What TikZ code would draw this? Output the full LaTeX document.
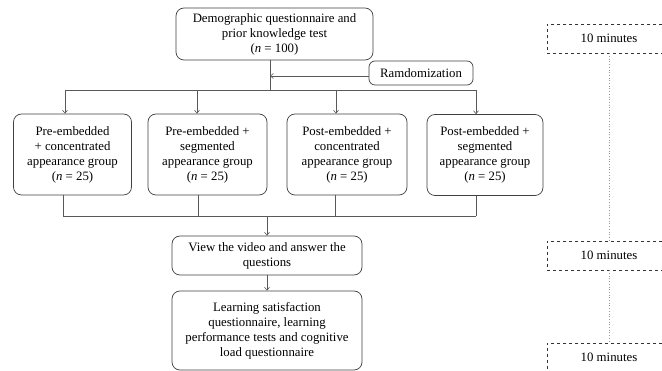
\documentclass[tikz,border=0pt]{standalone}
\usepackage{fontspec}
\setmainfont{Liberation Serif}
\usetikzlibrary{arrows.meta}
\begin{document}
\begin{tikzpicture}[x=1pt,y=-1pt,
  font=\fontsize{12.8pt}{15pt}\selectfont,
  line/.style={draw=black!65, line width=0.6pt},
  arr/.style={line, -{Straight Barb[length=3pt,width=5pt]}},
  box/.style={draw=black!75, line width=0.7pt, rounded corners=8pt, align=center, inner sep=1pt},
  timebox/.style={draw=black!80, line width=0.7pt, dashed, align=center, minimum width=124pt, minimum height=29pt},
  timeline/.style={draw=black!40, line width=0.7pt, dotted}]
\clip (0,0) rectangle (662,371);
\fill[white] (0,0) rectangle (662,371);

% main flow
\node[box, minimum width=197pt, minimum height=52pt] (top) at (274.5,34)
  {Demographic questionnaire and\\prior knowledge test\\(\textit{n} = 100)};
\node[box, rounded corners=6pt, minimum width=104pt, minimum height=24pt] (rand) at (421,73) {Ramdomization};

\node[box, minimum width=118pt, minimum height=81pt] (g1) at (72.5,154.5)
  {Pre-embedded\\+ concentrated\\appearance group\\(\textit{n} = 25)};
\node[box, minimum width=119pt, minimum height=81pt] (g2) at (207.5,154.5)
  {Pre-embedded +\\segmented\\appearance group\\(\textit{n} = 25)};
\node[box, minimum width=120pt, minimum height=81pt] (g3) at (347,154.5)
  {Post-embedded +\\concentrated\\appearance group\\(\textit{n} = 25)};
\node[box, minimum width=116pt, minimum height=81pt] (g4) at (485,155)
  {Post-embedded +\\segmented\\appearance group\\(\textit{n} = 25)};

\node[box, minimum width=190pt, minimum height=39pt] (view) at (267,255.5)
  {View the video and answer the\\questions};
\node[box, minimum width=190pt, minimum height=79pt] (learn) at (267,330.5)
  {Learning satisfaction\\questionnaire, learning\\performance tests and cognitive\\load questionnaire};

% split and merge points
\coordinate (split) at (270,90);
\coordinate (s1) at (65,90);
\coordinate (s2) at (197,90);
\coordinate (s3) at (336,90);
\coordinate (s4) at (476,90);
\coordinate (m1) at (63,216);
\coordinate (m2) at (198,216);
\coordinate (m3) at (335,216);
\coordinate (m4) at (476,216);
\coordinate (merge) at (267,216);

\draw[line] (top.south -| split) -- (split);
\draw[arr] (rand.west |- 0,76) -- (270,76);
\draw[line] (s1) -- (s4);
\foreach \i in {1,...,4} {
  \draw[arr] (s\i) -- (s\i |- g\i.north);
  \draw[line] (m\i |- g\i.south) -- (m\i);
}
\draw[line] (m1) -- (m4);
\draw[arr] (merge) -- (view.north);
\draw[arr] (view.south) -- (learn.north);

% timing column
\node[timebox] (t1) at (609,38.5) {10 minutes};
\node[timebox] (t2) at (609,255.5) {10 minutes};
\node[timebox] (t3) at (609,357.5) {10 minutes};
\draw[timeline] (t1.south) -- (t2.north);
\draw[timeline] (t2.south) -- (t3.north);
\end{tikzpicture}
\end{document}
